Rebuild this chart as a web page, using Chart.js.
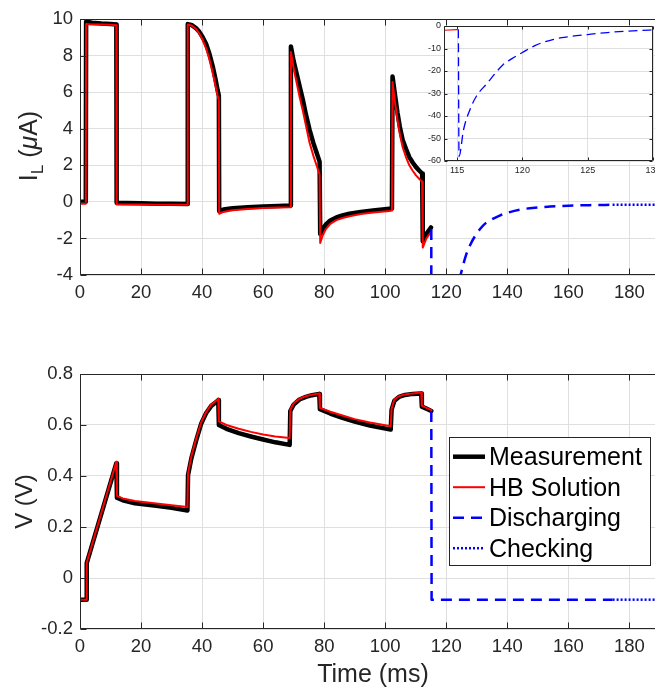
<!DOCTYPE html>
<html><head><meta charset="utf-8">
<script src="https://cdn.jsdelivr.net/npm/chart.js@4.4.1/dist/chart.umd.min.js"></script>
<style>
html,body{margin:0;padding:0;background:#fff;overflow:hidden;width:655px;height:688px;}
#wrap{position:relative;width:655px;height:688px;overflow:hidden;background:#fff;}
canvas{position:absolute;display:block;}
</style></head><body>
<div id="wrap">
<canvas id="cI" width="690" height="330" style="left:0;top:0"></canvas>
<canvas id="cV" width="690" height="358" style="left:0;top:330px"></canvas>
<canvas id="cIn" width="255" height="175" style="left:400px;top:10px"></canvas>
</div>
<script>
// ---------- data ----------
const tI = [0,1.9,2.0,4,7,10,11.9, 12.0,15,20,25,30,35.2, 35.3,36.5,38,39.1,40.2,41.3,42.4,43.5,44.4,45.1,45.5, 45.6,47,50,55,60,65,68.9, 69.1,70,71,72,73,74,75.2,76.5,77.5,78.5, 78.7,79.5,80.5,82,84,86,88.3,92,96,101.4,102.2, 102.4,103,104,104.8,105.7,106.8,107.9,109,110.1,111.2,112.1, 112.3,113.5,115.0];
const iMeas = [0,0,9.85,9.8,9.75,9.72,9.7, -0.05,-0.06,-0.08,-0.1,-0.11,-0.12, 9.72,9.68,9.5,9.3,9.0,8.65,8.1,7.4,6.7,6.1,5.8, -0.5,-0.42,-0.35,-0.3,-0.26,-0.23,-0.2, 8.5,7.7,7.0,6.3,5.6,4.8,3.95,3.2,2.7,2.2, -1.75,-1.5,-1.25,-1.02,-0.85,-0.74,-0.65,-0.55,-0.47,-0.38,-0.37, 6.85,6.1,4.9,4.1,3.4,2.9,2.45,2.15,1.9,1.7,1.55, -2.15,-1.75,-1.4];
const iHb = [-0.1,-0.1,9.72,9.7,9.7,9.68,9.66, -0.15,-0.15,-0.15,-0.16,-0.16,-0.16, 9.7,9.65,9.45,9.2,8.85,8.4,7.8,7.05,6.35,5.8,5.55, -0.65,-0.55,-0.46,-0.39,-0.34,-0.31,-0.3, 8.2,7.3,6.5,5.7,5.0,4.2,3.25,2.5,2.0,1.5, -2.25,-1.85,-1.5,-1.2,-1.0,-0.88,-0.79,-0.66,-0.58,-0.5,-0.48, 6.55,5.7,4.5,3.7,3.0,2.45,2.0,1.7,1.45,1.25,1.1, -2.5,-2.0,-1.65];
const tDisI = [115.1,115.15,115.5,116,116.5,117.3,118,118.5,119.2,120, 121,122.4,123.5,125,126.5,128,129.7,131,133,135, 137.5,140,144,149,154,160,167,174.5];
const iDis = [-1.5,-58,-46,-37,-31,-25.5,-20.5,-17.3,-14.5,-11.8, -8.6,-5.9,-4.8,-3.8,-2.9,-2.3,-1.8,-1.5,-1.15,-0.95, -0.75,-0.6,-0.43,-0.32,-0.26,-0.21,-0.18,-0.16];
const tChkI = [174.5,192];
const iChk = [-0.16,-0.15];

const tV = [0,2.1,2.2,11.9, 12.1,14,18,25,30,35.2, 35.4,36.5,38.1,39.7,41.3,43,44.6,45.3, 45.5,48,52,56,60,64,68.7, 68.9,70,71.9,74,76,78.4, 78.6,82,86,90,95,101.8, 102.1,103,104.5,106.5,109,111.8, 112.0,113.5,115.1];
const vMeas = [-0.085,-0.085,0.058,0.45, 0.315,0.305,0.293,0.283,0.275,0.265, 0.404,0.47,0.541,0.605,0.646,0.675,0.69,0.698, 0.6,0.585,0.568,0.555,0.543,0.532,0.522, 0.655,0.68,0.7,0.71,0.717,0.722, 0.662,0.645,0.628,0.613,0.598,0.582, 0.66,0.695,0.71,0.718,0.722,0.724, 0.672,0.664,0.655];
const vHb = [-0.085,-0.085,0.06,0.456, 0.322,0.312,0.302,0.292,0.285,0.278, 0.41,0.478,0.548,0.61,0.65,0.68,0.695,0.702, 0.614,0.6,0.585,0.573,0.563,0.555,0.549, 0.66,0.685,0.703,0.713,0.719,0.724, 0.667,0.652,0.637,0.623,0.61,0.595, 0.665,0.7,0.713,0.72,0.724,0.727, 0.676,0.667,0.658];
const tDisV = [115.1,115.2,174.5];
const vDis = [0.655,-0.085,-0.085];
const tChkV = [174.5,192];
const vChk = [-0.085,-0.085];

const xTicks = [0,20,40,60,80,100,120,140,160,180];
const yTicksI = [-4,-2,0,2,4,6,8,10];
const yTicksV = [-0.2,0,0.2,0.4,0.6,0.8];
const xTicksIn = [115,120,125,130];
const yTicksIn = [-60,-50,-40,-30,-20,-10,0];

const seriesNames = ['Measurement','HB Solution','Discharging','Checking'];

// ---------- styling ----------
const FONT = '"Liberation Sans", Arial, Helvetica, sans-serif';
const AX = '#262626';
const GRID = '#dfdfdf';
const pts = (t, y) => t.map((v, i) => ({x: v, y: y[i]}));

function mkX(min, max, ticks, size, pad, h, title) {
  return {
    type: 'linear', min, max,
    afterBuildTicks: s => { s.ticks = ticks.map(v => ({value: v})); },
    afterFit: s => { s.height = h; s.paddingLeft = 0; s.paddingRight = 0; },
    grid: {color: GRID, lineWidth: 1, drawTicks: false},
    border: {display: false},
    ticks: {color: AX, font: {family: FONT, size}, padding: pad, maxRotation: 0, autoSkip: false, callback: v => String(v)},
    title: title || {display: false}
  };
}
function mkY(min, max, ticks, size, pad, w, title) {
  return {
    type: 'linear', min, max,
    afterBuildTicks: s => { s.ticks = ticks.map(v => ({value: v})); },
    afterFit: s => { s.width = w; s.paddingTop = 0; s.paddingBottom = 0; },
    grid: {color: GRID, lineWidth: 1, drawTicks: false},
    border: {display: false},
    ticks: {color: AX, font: {family: FONT, size}, padding: pad, autoSkip: false, callback: v => String(v)},
    title: title || {display: false}
  };
}
function ds(label, data, color, width, dash, order, smooth) {
  return {label, data, borderColor: color, backgroundColor: color, borderWidth: width,
    borderDash: dash || [], showLine: true, pointRadius: 0, pointHoverRadius: 0, fill: false,
    order, borderJoinStyle: 'round', borderCapStyle: dash ? 'butt' : 'round',
    cubicInterpolationMode: smooth ? 'monotone' : 'default'};
}

const boxPlugin = {
  id: 'box',
  afterDatasetsDraw(chart, args, o) {
    const {ctx, chartArea: a, scales: {x, y}} = chart;
    const tl = o.tick || 6;
    const L = Math.round(a.left) + 0.5, R = Math.round(a.right) - 0.5;
    const T = Math.round(a.top) + 0.5, B = Math.round(a.bottom) - 0.5;
    ctx.save();
    ctx.strokeStyle = AX; ctx.lineWidth = 1; ctx.setLineDash([]);
    ctx.beginPath();
    ctx.rect(L, T, R - L, B - T);
    x.ticks.forEach(t => {
      const p = Math.round(x.getPixelForValue(t.value)) + 0.5;
      ctx.moveTo(p, B); ctx.lineTo(p, B - tl);
      ctx.moveTo(p, T); ctx.lineTo(p, T + tl);
    });
    y.ticks.forEach(t => {
      const p = Math.round(y.getPixelForValue(t.value)) + 0.5;
      ctx.moveTo(L, p); ctx.lineTo(L + tl, p);
      ctx.moveTo(R, p); ctx.lineTo(R - tl, p);
    });
    ctx.stroke();
    ctx.restore();
  }
};

const whiteBg = {
  id: 'whitebg',
  beforeDraw(chart) {
    const {ctx, chartArea: a} = chart;
    ctx.save(); ctx.fillStyle = '#fff';
    ctx.fillRect(a.left, a.top, a.right - a.left, a.bottom - a.top);
    ctx.restore();
  }
};

const ilTitle = {
  id: 'iltitle',
  afterDraw(chart) {
    const ctx = chart.ctx;
    ctx.save();
    ctx.translate(36.5, 146);
    ctx.rotate(-Math.PI / 2);
    ctx.fillStyle = AX; ctx.textBaseline = 'alphabetic'; ctx.textAlign = 'left';
    const big = '25px ' + FONT, small = '17px ' + FONT, it = 'italic 25px ' + FONT;
    const parts = [['I', big, 0], ['L', small, 6], [' (', big, 0], ['\u03bc', it, 0], ['A)', big, 0]];
    let w = 0;
    parts.forEach(p => { ctx.font = p[1]; w += ctx.measureText(p[0]).width; });
    let x = -w / 2;
    parts.forEach(p => { ctx.font = p[1]; ctx.fillText(p[0], x, p[2]); x += ctx.measureText(p[0]).width; });
    ctx.restore();
  }
};

const legendPlugin = {
  id: 'mlegend',
  afterDraw(chart, args, o) {
    const ctx = chart.ctx;
    ctx.save();
    ctx.fillStyle = '#fff';
    ctx.fillRect(o.x, o.y, o.w, o.h);
    ctx.strokeStyle = AX; ctx.lineWidth = 1; ctx.setLineDash([]);
    ctx.strokeRect(o.x + 0.5, o.y + 0.5, o.w, o.h);
    chart.data.datasets.forEach((d, i) => {
      const cy = o.y + o.first + i * o.step;
      ctx.beginPath();
      ctx.setLineDash(d.borderDash || []);
      ctx.strokeStyle = d.borderColor; ctx.lineWidth = d.borderWidth;
      ctx.lineCap = 'butt';
      ctx.moveTo(o.x + 4, cy); ctx.lineTo(o.x + 36, cy);
      ctx.stroke();
      ctx.setLineDash([]);
      ctx.fillStyle = '#000';
      ctx.font = '25px ' + FONT;
      ctx.textBaseline = 'alphabetic'; ctx.textAlign = 'left';
      ctx.fillText(d.label, o.x + 40, cy + 8.5);
    });
    ctx.restore();
  }
};

const common = {
  responsive: false, animation: false, devicePixelRatio: 1,
  events: [],
};

// ---------- top chart: current ----------
new Chart(document.getElementById('cI'), {
  type: 'scatter',
  data: {datasets: [
    ds(seriesNames[0], pts(tI, iMeas), '#000000', 4.5, null, 4),
    ds(seriesNames[1], pts(tI, iHb), '#ff0000', 2, null, 3),
    ds(seriesNames[2], pts(tDisI, iDis), '#0000ff', 2.5, [11, 7], 2, true),
    ds(seriesNames[3], pts(tChkI, iChk), '#0000ff', 2.5, [2, 2], 1)
  ]},
  options: Object.assign({}, common, {
    layout: {padding: {left: 0, right: 24, top: 19, bottom: 0}},
    plugins: {legend: {display: false}, tooltip: {enabled: false}, box: {tick: 6}},
    scales: {
      x: mkX(0, 192, xTicks, 18.5, 7, 55),
      y: mkY(-4, 10, yTicksI, 18.5, 7, 80)
    }
  }),
  plugins: [boxPlugin, ilTitle]
});

// ---------- bottom chart: voltage ----------
new Chart(document.getElementById('cV'), {
  type: 'scatter',
  data: {datasets: [
    ds(seriesNames[0], pts(tV, vMeas), '#000000', 4.5, null, 4),
    ds(seriesNames[1], pts(tV, vHb), '#ff0000', 2, null, 3),
    ds(seriesNames[2], pts(tDisV, vDis), '#0000ff', 2.5, [11, 7], 2),
    ds(seriesNames[3], pts(tChkV, vChk), '#0000ff', 2.5, [2, 2], 1)
  ]},
  options: Object.assign({}, common, {
    layout: {padding: {left: 0, right: 24, top: 44, bottom: 0}},
    plugins: {legend: {display: false}, tooltip: {enabled: false}, box: {tick: 6},
      mlegend: {x: 449, y: 107, w: 201, h: 128, first: 19.7, step: 30.5}},
    scales: {
      x: mkX(0, 192, xTicks, 18.5, 7, 59,
        {display: true, text: 'Time (ms)', color: AX, font: {family: FONT, size: 25, lineHeight: 1}, padding: {top: 0, bottom: 0}}),
      y: mkY(-0.2, 0.8, yTicksV, 18.5, 7, 80,
        {display: true, text: 'V (V)', color: AX, font: {family: FONT, size: 24, lineHeight: 1}, padding: {top: 13, bottom: 0}})
    }
  }),
  plugins: [boxPlugin, legendPlugin]
});

// ---------- inset ----------
new Chart(document.getElementById('cIn'), {
  type: 'scatter',
  data: {datasets: [
    ds(seriesNames[1], pts(tI, iHb), '#ff0000', 1.2, null, 2),
    ds(seriesNames[2], pts(tDisI, iDis), '#0000ff', 1.3, [9, 5], 1, true)
  ]},
  options: Object.assign({}, common, {
    layout: {padding: {left: 0, right: 2, top: 16, bottom: 0}},
    plugins: {legend: {display: false}, tooltip: {enabled: false}, box: {tick: 3}},
    scales: {
      x: mkX(114, 130, xTicksIn, 9, 4.5, 24),
      y: mkY(-60, 0, yTicksIn, 9, 3, 44)
    }
  }),
  plugins: [whiteBg, boxPlugin]
});
</script>
</body></html>
